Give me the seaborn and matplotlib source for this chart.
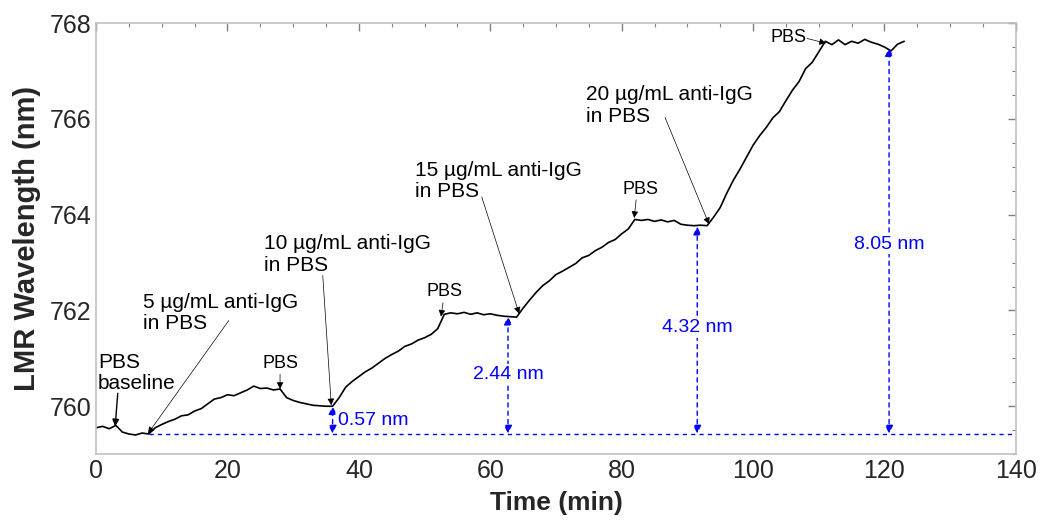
import numpy as np
import pandas as pd
import seaborn as sns
import matplotlib.pyplot as plt
from matplotlib.ticker import MultipleLocator

# LMR wavelength trace (1 min steps)
time_min = [0, 1, 2, 3, 4, 5, 6, 7, 8, 9,
            10, 11, 12, 13, 14, 15, 16, 17, 18, 19,
            20, 21, 22, 23, 24, 25, 26, 27, 28, 29,
            30, 31, 32, 33, 34, 35, 36, 37, 38, 39,
            40, 41, 42, 43, 44, 45, 46, 47, 48, 49,
            50, 51, 52, 53, 54, 55, 56, 57, 58, 59,
            60, 61, 62, 63, 64, 65, 66, 67, 68, 69,
            70, 71, 72, 73, 74, 75, 76, 77, 78, 79,
            80, 81, 82, 83, 84, 85, 86, 87, 88, 89,
            90, 91, 92, 93, 94, 95, 96, 97, 98, 99,
            100, 101, 102, 103, 104, 105, 106, 107, 108, 109,
            110, 111, 112, 113, 114, 115, 116, 117, 118, 119,
            120, 121, 122, 123]
wavelength = [759.55, 759.58, 759.53, 759.60, 759.46, 759.42, 759.40, 759.44, 759.42, 759.55,
              759.62, 759.68, 759.73, 759.80, 759.82, 759.90, 759.95, 760.05, 760.15, 760.18,
              760.24, 760.22, 760.28, 760.34, 760.42, 760.37, 760.38, 760.34, 760.36, 760.18,
              760.12, 760.08, 760.05, 760.02, 760.01, 760.00, 760.00, 760.18, 760.40, 760.52,
              760.62, 760.72, 760.80, 760.90, 761.00, 761.08, 761.15, 761.25, 761.30, 761.38,
              761.43, 761.50, 761.62, 761.92, 761.95, 761.93, 761.96, 761.92, 761.95, 761.91,
              761.93, 761.90, 761.88, 761.87, 761.86, 762.05, 762.22, 762.38, 762.52, 762.62,
              762.75, 762.82, 762.90, 762.98, 763.10, 763.15, 763.25, 763.32, 763.42, 763.48,
              763.60, 763.70, 763.90, 763.88, 763.90, 763.86, 763.89, 763.85, 763.88, 763.80,
              763.78, 763.77, 763.78, 763.77, 763.95, 764.15, 764.45, 764.72, 764.95, 765.20,
              765.45, 765.65, 765.82, 766.02, 766.15, 766.38, 766.60, 766.78, 767.05, 767.18,
              767.40, 767.62, 767.55, 767.65, 767.55, 767.62, 767.58, 767.66, 767.60, 767.56,
              767.50, 767.42, 767.56, 767.62]

# black annotations: label, text position, arrow tail and tip
ann_labels = ["PBS\nbaseline", "5 µg/mL anti-IgG\nin PBS", "PBS",
              "10 µg/mL anti-IgG\nin PBS", "PBS", "15 µg/mL anti-IgG\nin PBS",
              "PBS", "20 µg/mL anti-IgG\nin PBS", "PBS"]
ann_text_x = [0.3, 7.1, 28.0, 25.6, 53.0, 48.6, 82.8, 74.6, 105.4]
ann_text_y = [760.70, 761.95, 760.90, 763.17, 762.39, 764.70, 764.52, 766.28, 767.69]
ann_tail_x = [3.3, 20.2, 28.0, 34.5, 52.8, 58.7, 82.2, 86.6, 108.2]
ann_tail_y = [760.27, 761.79, 760.67, 762.73, 762.16, 764.37, 764.31, 766.03, 767.68]
ann_tip_x = [2.9, 7.9, 28.0, 35.8, 52.5, 64.4, 81.9, 93.3, 111.1]
ann_tip_y = [759.58, 759.43, 760.36, 760.02, 761.87, 761.93, 763.93, 763.80, 767.58]

# blue shift markers
baseline = 759.43
shift_x = [36.0, 62.7, 91.5, 120.7]
shift_top = [760.00, 761.87, 763.75, 767.48]
shift_labels = ["0.57 nm", "2.44 nm", "4.32 nm", "8.05 nm"]
shift_label_y = [759.70, 760.67, 761.64, 763.38]

df = pd.DataFrame({"Time (min)": time_min, "LMR Wavelength (nm)": wavelength})

sns.set_theme(style="white")
plt.rcParams["font.family"] = ["Liberation Sans", "DejaVu Sans"]

fig = plt.figure(figsize=(10.56, 5.25), dpi=100)
ax = fig.add_axes([0.091, 0.135, 0.871, 0.821])

sns.lineplot(data=df, x="Time (min)", y="LMR Wavelength (nm)", ax=ax,
             color="black", linewidth=1.2)

# baseline
ax.plot([8, 139.7], [baseline, baseline], color="blue", linestyle=(0, (3, 3)), linewidth=1)

for x, top, lab, ly in zip(shift_x, shift_top, shift_labels, shift_label_y):
    ax.annotate("", xy=(x, top), xytext=(x, baseline),
                arrowprops=dict(arrowstyle="<|-|>", color="blue", lw=1,
                                linestyle=(0, (3, 3)), mutation_scale=12,
                                shrinkA=0, shrinkB=0))
    if lab == "0.57 nm":
        ax.text(x + 0.8, ly, lab, color="blue", fontsize=14, ha="left", va="center")
    else:
        ax.text(x, ly, lab, color="blue", fontsize=14, ha="center", va="center",
                bbox=dict(facecolor="white", edgecolor="none", pad=1))

for i, lab in enumerate(ann_labels):
    big = "µg" in lab or "baseline" in lab
    ha = "left" if big else "center"
    fs = 15 if big else 13
    lw = 1.0 if i == 0 else 0.5
    ax.text(ann_text_x[i], ann_text_y[i], lab, fontsize=fs, ha=ha, va="center",
            color="black", linespacing=1.15)
    ax.annotate("", xy=(ann_tip_x[i], ann_tip_y[i]), xytext=(ann_tail_x[i], ann_tail_y[i]),
                arrowprops=dict(arrowstyle="-|>", color="black", lw=lw,
                                mutation_scale=10, shrinkA=0, shrinkB=0))

ax.set_xlim(0, 140)
ax.set_ylim(759, 768)
ax.xaxis.set_major_locator(MultipleLocator(20))
ax.xaxis.set_minor_locator(MultipleLocator(5))
ax.yaxis.set_major_locator(MultipleLocator(2))
ax.yaxis.set_minor_locator(MultipleLocator(0.5))
ax.tick_params(which="both", direction="in", top=True, right=True,
               color="#808080", labelcolor="#262626", labelsize=18)
ax.tick_params(which="major", length=6, width=1)
ax.tick_params(which="minor", length=3, width=0.8)
for s in ax.spines.values():
    s.set_color("#c0c0c0")
    s.set_linewidth(1.2)

ax.set_xlabel("Time (min)", fontsize=19, fontweight="bold", labelpad=6)
ax.set_ylabel("LMR Wavelength (nm)", fontsize=21, fontweight="bold", labelpad=6)

fig.savefig("out.png", dpi=100)
